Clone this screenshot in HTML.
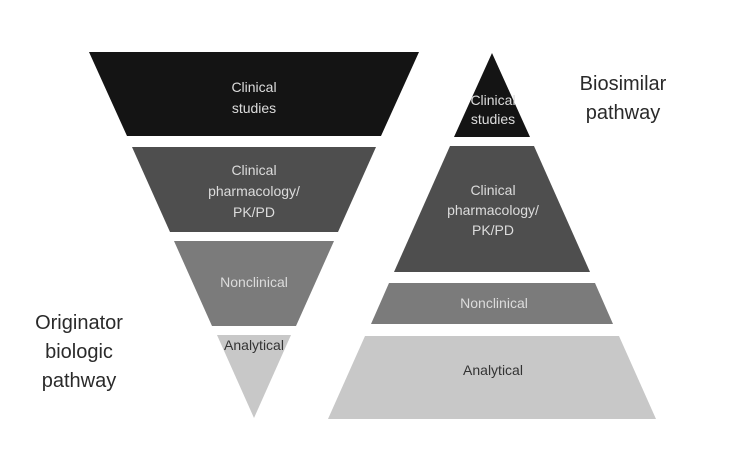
<!DOCTYPE html>
<html>
<head>
<meta charset="utf-8">
<style>
html,body{margin:0;padding:0;background:#fff;}
svg{display:block;}
text{font-family:"Liberation Sans",Arial,sans-serif;}
</style>
</head>
<body>
<svg width="744" height="452" viewBox="0 0 744 452" xmlns="http://www.w3.org/2000/svg">
  <rect width="744" height="452" fill="#fff"/>
  <!-- Left inverted pyramid (center 254, apex y 418) -->
  <polygon points="89,52 419,52 381,136 127,136" fill="#141414"/>
  <polygon points="132,147 376,147 338,232 170,232" fill="#4e4e4e"/>
  <polygon points="174,241 334,241 296,326 212,326" fill="#7b7b7b"/>
  <polygon points="217,335 291,335 254,418" fill="#c8c8c8"/>

  <g font-size="14" fill="#dcdcdc" text-anchor="middle">
    <text x="254" y="92">Clinical</text>
    <text x="254" y="113">studies</text>
    <text x="254" y="175">Clinical</text>
    <text x="254" y="196">pharmacology/</text>
    <text x="254" y="217">PK/PD</text>
    <text x="254" y="287">Nonclinical</text>
  </g>
  <text x="254" y="350" font-size="14" fill="#333" text-anchor="middle">Analytical</text>

  <!-- Right pyramid (center 492, apex y 53) -->
  <polygon points="492,53 530,137 454,137" fill="#141414"/>
  <polygon points="450,146 534,146 590,272 394,272" fill="#4e4e4e"/>
  <polygon points="389,283 595,283 613,324 371,324" fill="#7b7b7b"/>
  <polygon points="365,336 619,336 656,419 328,419" fill="#c8c8c8"/>

  <g font-size="14" fill="#dcdcdc" text-anchor="middle">
    <text x="493" y="105">Clinical</text>
    <text x="493" y="124">studies</text>
    <text x="493" y="195">Clinical</text>
    <text x="493" y="215">pharmacology/</text>
    <text x="493" y="235">PK/PD</text>
    <text x="494" y="308">Nonclinical</text>
  </g>
  <text x="493" y="375" font-size="14" fill="#333" text-anchor="middle">Analytical</text>

  <!-- Side labels -->
  <g font-size="20" fill="#2a2a2a" text-anchor="middle">
    <text x="79" y="329">Originator</text>
    <text x="79" y="358">biologic</text>
    <text x="79" y="387">pathway</text>
    <text x="623" y="90">Biosimilar</text>
    <text x="623" y="119">pathway</text>
  </g>
</svg>
</body>
</html>
